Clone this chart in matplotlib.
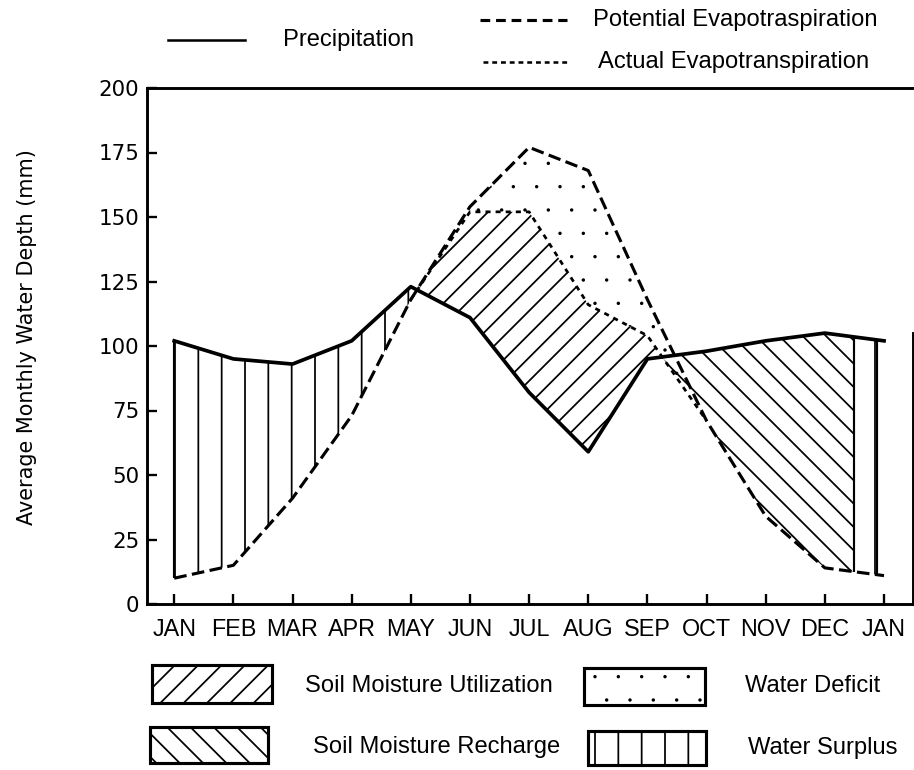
import numpy as np
import matplotlib
matplotlib.use('Agg')
import matplotlib.pyplot as plt
import matplotlib.hatch as mhatch
from matplotlib.patches import Rectangle
from matplotlib.lines import Line2D

# ---------------- data ----------------
months = ['JAN', 'FEB', 'MAR', 'APR', 'MAY', 'JUN', 'JUL', 'AUG', 'SEP',
          'OCT', 'NOV', 'DEC', 'JAN']
precipitation = [102, 95, 93, 102, 123, 111, 82, 59, 95, 98, 102, 105, 102]
potential_et = [10, 15, 41, 73, 118, 154, 177, 168, 118, 71, 34, 14, 11]
actual_et = [10, 15, 41, 73, 118, 152, 152, 116, 104, 71, 34, 14, 11]
y_ticks = [0, 25, 50, 75, 100, 125, 150, 175, 200]
recharge_end = 11.5    # soil reaches field capacity (month position)
surplus_end = 11.88    # end of the winter surplus strip


# smaller stipple dots for the '.' hatch (as in the printed figure)
class SparseDots(mhatch.Circles):
    size = 0.035
    filled = True

    def __init__(self, hatch, density):
        self.num_rows = hatch.count('.') * 6
        super().__init__(hatch, density)


mhatch._hatch_types[mhatch._hatch_types.index(mhatch.SmallFilledCircles)] = SparseDots

# ---------------- setup ----------------
W, H, DPI = 914, 770, 140
plt.rcParams['lines.scale_dashes'] = False
plt.rcParams['hatch.linewidth'] = 0.9
plt.rcParams['hatch.color'] = 'black'

SANS = ['Liberation Sans', 'DejaVu Sans']
HUM = ['DejaVu Sans']

fig = plt.figure(figsize=(W / DPI, H / DPI), dpi=DPI)
ax = fig.add_axes([147 / W, 1 - 604 / H, (913 - 147) / W, (604 - 88) / H])

x = np.arange(len(months))
xf = np.linspace(0, len(months) - 1, 4801)
Pf = np.interp(xf, x, precipitation)
PETf = np.interp(xf, x, potential_et)
AETf = np.interp(xf, x, actual_et)

fill_kw = dict(facecolor='none', edgecolor='black', linewidth=0,
               interpolate=True, zorder=1)

# water surplus (spring)
ax.fill_between(xf, PETf, Pf, where=(Pf >= PETf) & (xf < 6), hatch='|', **fill_kw)
# soil moisture utilization
ax.fill_between(xf, Pf, AETf, where=(AETf >= Pf) & (xf > 3) & (xf < 9),
                hatch='//', **fill_kw)
# water deficit
ax.fill_between(xf, AETf, PETf, where=(PETf > AETf + 0.01) & (xf >= 5),
                hatch='.', **fill_kw)
# soil moisture recharge
ax.fill_between(xf, AETf, Pf, where=(Pf >= AETf) & (xf > 8) & (xf <= recharge_end),
                hatch='\\\\', **fill_kw)
# water surplus (winter)
ax.fill_between(xf, PETf, Pf, where=(xf >= recharge_end) & (xf <= surplus_end),
                hatch='|', **fill_kw)

# boundary verticals of surplus areas
for xv in [0, recharge_end, surplus_end]:
    ax.vlines(xv, np.interp(xv, x, potential_et), np.interp(xv, x, precipitation),
              color='black', lw=1.1, zorder=2)

# lines
ax.plot(x, precipitation, color='black', lw=1.9, zorder=3)
ax.plot(x, potential_et, color='black', lw=1.6, dashes=(6.5, 2.8), zorder=3)
ax.plot(x[4:10], actual_et[4:10], color='black', lw=1.4, dashes=(2.6, 2.6), zorder=3)

# axes styling
ax.set_xlim(-0.46, 12.49)
ax.set_ylim(0, 200)
ax.set_xticks(x)
ax.set_xticklabels(months, fontfamily=SANS, fontsize=12)
ax.set_yticks(y_ticks)
ax.set_yticklabels([str(v) for v in y_ticks], fontfamily=HUM, fontsize=11)
ax.tick_params(axis='both', direction='in', length=5.2, width=1.2, color='black')
ax.tick_params(axis='x', pad=7)
ax.tick_params(axis='y', pad=4)
for s in ax.spines.values():
    s.set_linewidth(1.5)
ax.spines['right'].set_bounds(0, 105)
ax.set_facecolor('none')

fig.text(27 / W, 1 - 337 / H, 'Average Monthly Water Depth (mm)', rotation=90,
         ha='center', va='center', fontfamily=HUM, fontsize=10.7)


def fx(px):
    return px / W


def fy(py):
    return 1 - py / H


# top legend
fig.add_artist(Line2D([fx(168), fx(245)], [fy(40), fy(40)], color='black', lw=1.3))
fig.text(fx(283), fy(40), 'Precipitation', ha='left', va='center',
         fontfamily=SANS, fontsize=12.2)
fig.add_artist(Line2D([fx(480), fx(567)], [fy(20), fy(20)], color='black', lw=1.6,
                      dashes=(5, 3)))
fig.text(fx(593), fy(20), 'Potential Evapotraspiration', ha='left', va='center',
         fontfamily=SANS, fontsize=12.2)
fig.add_artist(Line2D([fx(483), fx(568)], [fy(62), fy(62)], color='black', lw=1.3,
                      dashes=(2.5, 2)))
fig.text(fx(598), fy(62), 'Actual Evapotranspiration', ha='left', va='center',
         fontfamily=SANS, fontsize=12.2)

# bottom legend boxes
boxes = [
    ((152, 665, 272, 703), '//', 'Soil Moisture Utilization', 305, 686),
    ((150, 727, 268, 763), '\\\\', 'Soil Moisture Recharge', 313, 747),
    ((584, 668, 705, 705), '.', 'Water Deficit', 745, 686),
    ((588, 731, 706, 765), '|', 'Water Surplus', 748, 748),
]
for (x0, y0, x1, y1), hatch, label, tx, ty in boxes:
    r = Rectangle((fx(x0), fy(y1)), fx(x1) - fx(x0), fy(y0) - fy(y1),
                  transform=fig.transFigure, facecolor='white', edgecolor='black',
                  linewidth=1.6, hatch=hatch)
    fig.add_artist(r)
    fig.text(fx(tx), fy(ty), label, ha='left', va='center', fontfamily=SANS,
             fontsize=12.2)

fig.savefig('out.png', dpi=DPI)
